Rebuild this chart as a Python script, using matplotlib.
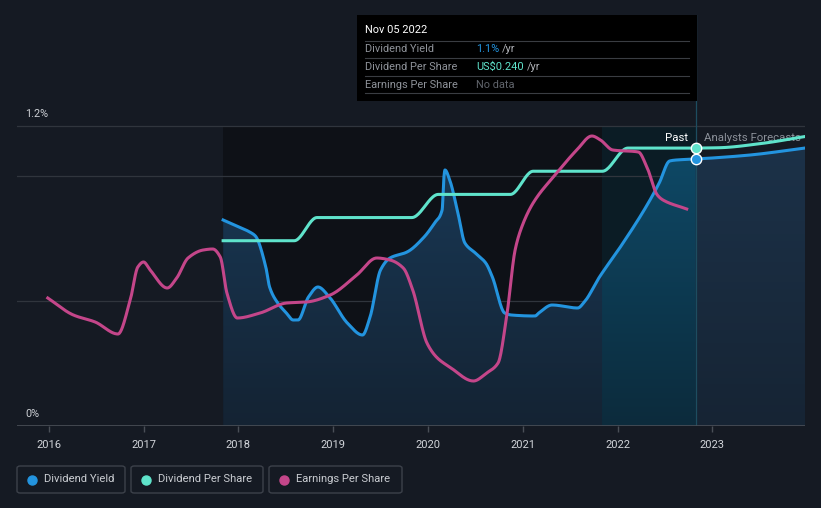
import numpy as np
import matplotlib
matplotlib.use("Agg")
import matplotlib.pyplot as plt
from matplotlib.patches import Rectangle, FancyBboxPatch
from matplotlib.lines import Line2D

plt.rcParams['font.family'] = ['Roboto', 'DejaVu Sans']

# ---------------- data ----------------
yield_x = [2017.84, 2017.96, 2018.12, 2018.18, 2018.29, 2018.33, 2018.42, 2018.50, 2018.58,
           2018.63, 2018.74, 2018.84, 2018.96, 2019.15, 2019.31, 2019.39, 2019.50, 2019.60,
           2019.78, 2019.96, 2020.07, 2020.15, 2020.17, 2020.18, 2020.23, 2020.31, 2020.39,
           2020.50, 2020.61, 2020.68, 2020.81, 2020.88, 2021.13, 2021.17, 2021.31, 2021.58,
           2021.65, 2021.81, 2022.03, 2022.30, 2022.44, 2022.55, 2022.62, 2022.83]
yield_pct = [0.824, 0.804, 0.776, 0.760, 0.636, 0.556, 0.490, 0.455, 0.424,
             0.424, 0.516, 0.556, 0.516, 0.412, 0.364, 0.436, 0.624, 0.672,
             0.696, 0.756, 0.812, 0.864, 1.000, 1.024, 0.984, 0.864, 0.732,
             0.692, 0.652, 0.596, 0.452, 0.444, 0.440, 0.452, 0.484, 0.472,
             0.496, 0.596, 0.716, 0.876, 0.972, 1.060, 1.064, 1.068]
yield_fc_x = [2022.83, 2023.00, 2023.40, 2023.98]
yield_fc_pct = [1.068, 1.072, 1.084, 1.112]

dps_x = [2017.84, 2018.59, 2018.83, 2019.83, 2020.11, 2020.87, 2021.11, 2021.84, 2022.11, 2022.83]
dps_usd = [0.16, 0.16, 0.18, 0.18, 0.20, 0.20, 0.22, 0.22, 0.24, 0.24]
dps_fc_x = [2022.83, 2023.07, 2023.52, 2023.98]
dps_fc_usd = [0.240, 0.2403, 0.244, 0.250]

eps_x = [2015.99, 2016.26, 2016.49, 2016.73, 2016.86, 2016.94, 2017.00, 2017.07, 2017.25,
         2017.35, 2017.47, 2017.63, 2017.73, 2017.81, 2017.88, 2017.99, 2018.23, 2018.51,
         2018.72, 2018.97, 2019.25, 2019.46, 2019.60, 2019.74, 2019.84, 2019.99, 2020.10,
         2020.23, 2020.48, 2020.62, 2020.74, 2020.83, 2020.92, 2020.99, 2021.11, 2021.36,
         2021.57, 2021.73, 2021.82, 2021.95, 2022.22, 2022.31, 2022.42, 2022.48, 2022.73]
eps_val = [1.28, 1.11, 1.04, 0.92, 1.26, 1.59, 1.64, 1.56, 1.38,
           1.48, 1.68, 1.76, 1.77, 1.69, 1.33, 1.08, 1.13, 1.23,
           1.24, 1.31, 1.51, 1.68, 1.66, 1.58, 1.36, 0.83, 0.68,
           0.59, 0.45, 0.53, 0.63, 1.09, 1.76, 1.99, 2.23, 2.53,
           2.76, 2.90, 2.86, 2.76, 2.74, 2.59, 2.31, 2.26, 2.17]

year_ticks = [2016, 2017, 2018, 2019, 2020, 2021, 2022, 2023]
now_x = 2022.83
band_start = 2021.84
tooltip_date = "Nov 05 2022"
tooltip_yield = "1.1%"
tooltip_dps = "US$0.240"

# ---------------- styling ----------------
BG = "#151a23"
BLUE = "#2394df"
TEAL = "#5fe3cb"
MAG = "#c4468a"
W, H = 821, 508
LW = 2.2

def monotone(x, y, n=24):
    x = np.asarray(x, float); y = np.asarray(y, float)
    h = np.diff(x); d = np.diff(y) / h
    m = np.zeros_like(x)
    m[0], m[-1] = d[0], d[-1]
    for k in range(1, len(x) - 1):
        if d[k - 1] * d[k] <= 0:
            m[k] = 0.0
        else:
            w1 = 2 * h[k] + h[k - 1]; w2 = h[k] + 2 * h[k - 1]
            m[k] = (w1 + w2) / (w1 / d[k - 1] + w2 / d[k])
    xs, ys = [], []
    for k in range(len(x) - 1):
        t = np.linspace(0, 1, n, endpoint=False)
        h00 = 2 * t**3 - 3 * t**2 + 1; h10 = t**3 - 2 * t**2 + t
        h01 = -2 * t**3 + 3 * t**2; h11 = t**3 - t**2
        xs.append(x[k] + t * h[k])
        ys.append(h00 * y[k] + h10 * h[k] * m[k] + h01 * y[k + 1] + h11 * h[k] * m[k + 1])
    xs.append([x[-1]]); ys.append([y[-1]])
    return np.concatenate(xs), np.concatenate(ys)

def px2x(px):
    return 2016 + (px - 48.7) / 94.8

fig = plt.figure(figsize=(W / 100, H / 100), dpi=100, facecolor=BG)
ax = fig.add_axes([17 / W, 1 - 426 / H, (805 - 17) / W, (426 - 15) / H])
ax.set_facecolor(BG)
X0, X1 = px2x(17), px2x(805)
Y_TOP = (426 - 15) / 250.0
ax.set_xlim(X0, X1)
ax.set_ylim(0, Y_TOP)

# region backgrounds
ax.add_patch(Rectangle((yield_x[0], 0), band_start - yield_x[0], 1.2, facecolor="#0e1117",
                       edgecolor="none", zorder=0.5))
ax.add_patch(Rectangle((band_start, 0), now_x - band_start, 1.2, facecolor="#0b1c25",
                       edgecolor="none", zorder=0.5))

# gridlines
for gy in [0.5, 1.0, 1.2]:
    ax.axhline(gy, color="#30353d", lw=0.9, zorder=1)
ax.axhline(0, color="#4a4f57", lw=1.2, zorder=6)

# now line
ax.axvline(now_x, color="#1d4d60", lw=0.9, zorder=1.5)

# gradient fill under dividend yield
fx = list(yield_x) + list(yield_fc_x[1:])
fy = list(yield_pct) + list(yield_fc_pct[1:])
sx, sy = monotone(fx, fy)
poly = ax.fill_between(sx, 0, sy, facecolor="none", edgecolor="none")
ncol, nrow = 800, 200
cols = np.linspace(X0, X1, ncol)
t = np.linspace(1, 0, nrow)[:, None]
def hexrgb(h):
    return np.array([int(h[i:i + 2], 16) / 255 for i in (1, 3, 5)])
img = np.zeros((nrow, ncol, 4))
for j, cx in enumerate(cols):
    if band_start <= cx < now_x:
        top, bot = hexrgb("#0e4a68"), hexrgb("#0c2b3c")
    elif cx >= now_x:
        top, bot = hexrgb("#1c3249"), hexrgb("#162434")
    else:
        top, bot = hexrgb("#193a58"), hexrgb("#142333")
    img[:, j, :3] = bot + (top - bot) * t
    img[:, j, 3] = 1.0
im = ax.imshow(img, extent=[X0, X1, 0, 1.15], aspect="auto", origin="upper", zorder=1.2,
               interpolation="bilinear")
im.set_clip_path(poly.get_paths()[0], transform=ax.transData)
ax.set_xlim(X0, X1)
ax.set_ylim(0, Y_TOP)

# dividend yield line
ax.plot(sx, sy, color=BLUE, lw=LW, zorder=3)

# DPS axis
ax2 = ax.twinx()
ax2.set_ylim(0, 411 / 1158)
dx, dy = monotone(dps_x, dps_usd)
ax2.plot(dx, dy, color=TEAL, lw=LW, zorder=3)
dfx, dfy = monotone(dps_fc_x, dps_fc_usd)
ax2.plot(dfx, dfy, color=TEAL, lw=LW, zorder=3)

# EPS axis
ax3 = ax.twinx()
ax3.set_ylim(0, 4.11)
ex, ey = monotone(eps_x, eps_val)
ax3.plot(ex, ey, color=MAG, lw=LW, zorder=3)

# markers at now
ax3.plot([now_x], [yield_fc_pct[0] * 4.11 / Y_TOP], 'o', ms=7.5, mfc=BLUE, mec="white", mew=1, zorder=6)
ax3.plot([now_x], [dps_usd[-1] * 4.11 / (411 / 1158)], 'o', ms=7.5, mfc=TEAL, mec="white", mew=1, zorder=6)

for a in (ax, ax2, ax3):
    for s in a.spines.values():
        s.set_visible(False)
    a.set_xlim(X0, X1)
ax2.set_yticks([]); ax3.set_yticks([])
ax.set_yticks([])
ax.set_xticks(year_ticks)
ax.set_xticklabels([str(y) for y in year_ticks], color="#d2d5da", fontsize=8)
ax.tick_params(axis="x", length=4, width=1, color="#4a4f57", pad=6)
ax2.tick_params(axis="x", length=0, labelbottom=False)
ax3.tick_params(axis="x", length=0, labelbottom=False)

# y labels
ax.text(px2x(25), 1.2 + 12 / 250, "1.2%", color="#cdd0d5", fontsize=7.8, va="center", ha="left", zorder=7)
ax.text(px2x(25), 12 / 250, "0%", color="#cdd0d5", fontsize=7.8, va="center", ha="left", zorder=7)

# Past / Analysts Forecasts
ax.text(px2x(688), (426 - 138) / 250, "Past", color="#ffffff", fontsize=8.2, ha="right", va="center", zorder=7)
ax.text(px2x(704), (426 - 138) / 250, "Analysts Forecasts", color="#8b9099", fontsize=8.2,
        ha="left", va="center", zorder=2.5, clip_on=True)

# ---------------- tooltip ----------------
def fx_(p): return p / W
def fy_(p): return 1 - p / H
fig.add_artist(Rectangle((fx_(357), fy_(101)), (697 - 357) / W, (101 - 15) / H,
                         transform=fig.transFigure, facecolor="#000000", edgecolor="none", zorder=10))
TF = 7.9
fig.text(fx_(365), fy_(30), tooltip_date, color="white", fontsize=TF, va="center", zorder=11)
for ly in [41, 58.3, 76, 93.3]:
    fig.add_artist(Line2D([fx_(365), fx_(689)], [fy_(ly), fy_(ly)], transform=fig.transFigure,
                          color="#3a3d42", lw=0.8, zorder=11))
rows = [("Dividend Yield", 49.5), ("Dividend Per Share", 67), ("Earnings Per Share", 84.8)]
for lbl, ry in rows:
    fig.text(fx_(365), fy_(ry), lbl, color="#8e9299", fontsize=TF, va="center", zorder=11)
fig.text(fx_(476), fy_(49.5), tooltip_yield, color=BLUE, fontsize=TF, va="center", zorder=11)
fig.text(fx_(502), fy_(49.5), "/yr", color="#b0b3b8", fontsize=TF, va="center", zorder=11)
fig.text(fx_(476), fy_(67), tooltip_dps, color=TEAL, fontsize=TF, va="center", zorder=11)
fig.text(fx_(527), fy_(67), "/yr", color="#b0b3b8", fontsize=TF, va="center", zorder=11)
fig.text(fx_(476), fy_(84.8), "No data", color="#60646b", fontsize=TF, va="center", zorder=11)

# ---------------- legend ----------------
legend_items = [("Dividend Yield", BLUE, 17, 125), ("Dividend Per Share", TEAL, 131, 263),
                ("Earnings Per Share", MAG, 269, 402)]
for lbl, col, x0, x1 in legend_items:
    fig.add_artist(FancyBboxPatch((fx_(x0), fy_(493)), (x1 - x0) / W, (493 - 466) / H,
                                  boxstyle="round,pad=0,rounding_size=0.004", transform=fig.transFigure,
                                  facecolor="none", edgecolor="#3c414a", lw=1, zorder=10))
    fig.add_artist(Line2D([fx_(x0 + 15)], [fy_(479.5)], marker="o", ms=6.5, color=col, mec=col,
                          transform=fig.transFigure, zorder=11))
    fig.text(fx_(x0 + 27), fy_(479.5), lbl, color="#c9ccd1", fontsize=8.1, va="center", zorder=11)

fig.savefig("out.png", dpi=100, facecolor=BG)
